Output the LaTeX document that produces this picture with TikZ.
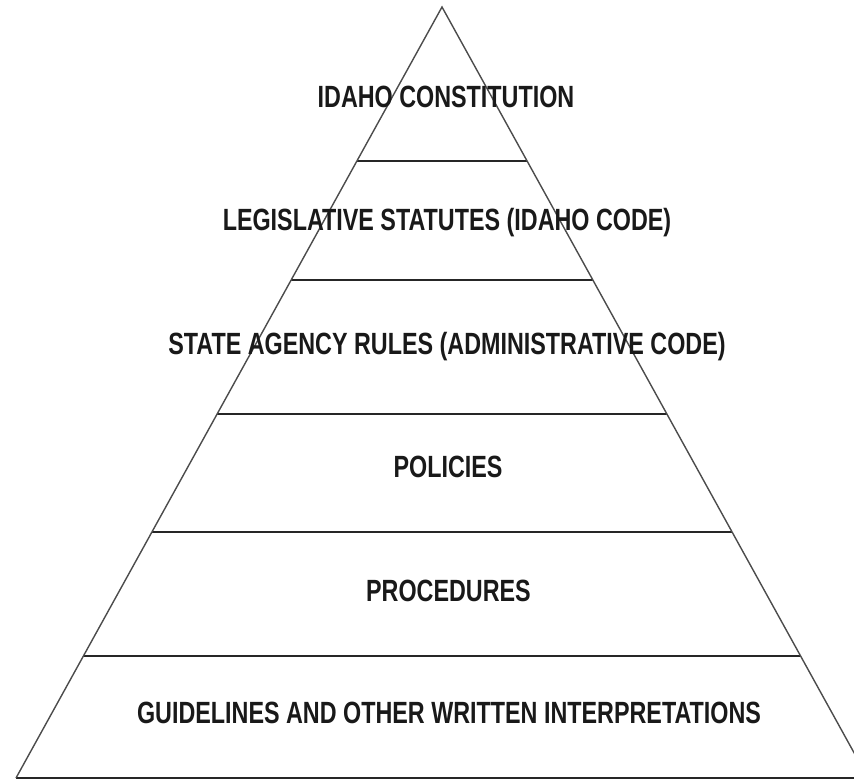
\documentclass[tikz,border=0pt]{standalone}
\usepackage{fontspec}
\setmainfont{Liberation Sans}[FakeStretch=0.76]
\usetikzlibrary{calc}
\tikzset{
  edge/.style={draw=black!70, line width=1.4pt},
  tier/.style={draw=black!85, line width=1.3pt},
  lbl/.style={inner sep=0pt, text height=22pt, text depth=0pt, anchor=center,
    font=\fontsize{30.7}{32}\selectfont\bfseries, text=black!90}
}
\begin{document}
\begin{tikzpicture}[x=1pt,y=-1pt]
\useasboundingbox (0,0) rectangle (854,779);
\fill[white] (0,0) rectangle (854,779);
\clip (0,0) rectangle (854,779);
\coordinate (apex) at (442,7);
\coordinate (bl) at (16,778);
\coordinate (br) at (868,778);
\foreach \n/\t in {a/0.19974,b/0.35409,c/0.52789,d/0.68093,e/0.84176}{
  \coordinate (L\n) at ($(apex)!\t!(bl)$);
  \coordinate (R\n) at ($(apex)!\t!(br)$);
}
\draw[tier] (La) -- (Ra);
\draw[tier] (Lb) -- (Rb);
\draw[tier] (Lc) -- (Rc);
\draw[tier] (Ld) -- (Rd);
\draw[tier] (Le) -- (Re);
\draw[tier] (bl) -- (br);
\draw[edge] (bl) -- (apex) -- (br);
\node[lbl] (t1) at (446,96.5) {IDAHO CONSTITUTION};
\node[lbl] (t2) at (447,219) {LEGISLATIVE STATUTES (IDAHO CODE)};
\node[lbl] (t3) at (447,343.5) {STATE AGENCY RULES (ADMINISTRATIVE CODE)};
\node[lbl] (t4) at (448,466.5) {POLICIES};
\node[lbl] (t5) at (448.5,590) {PROCEDURES};
\node[lbl] (t6) at (449,712.5) {GUIDELINES AND OTHER WRITTEN INTERPRETATIONS};
\end{tikzpicture}
\end{document}
